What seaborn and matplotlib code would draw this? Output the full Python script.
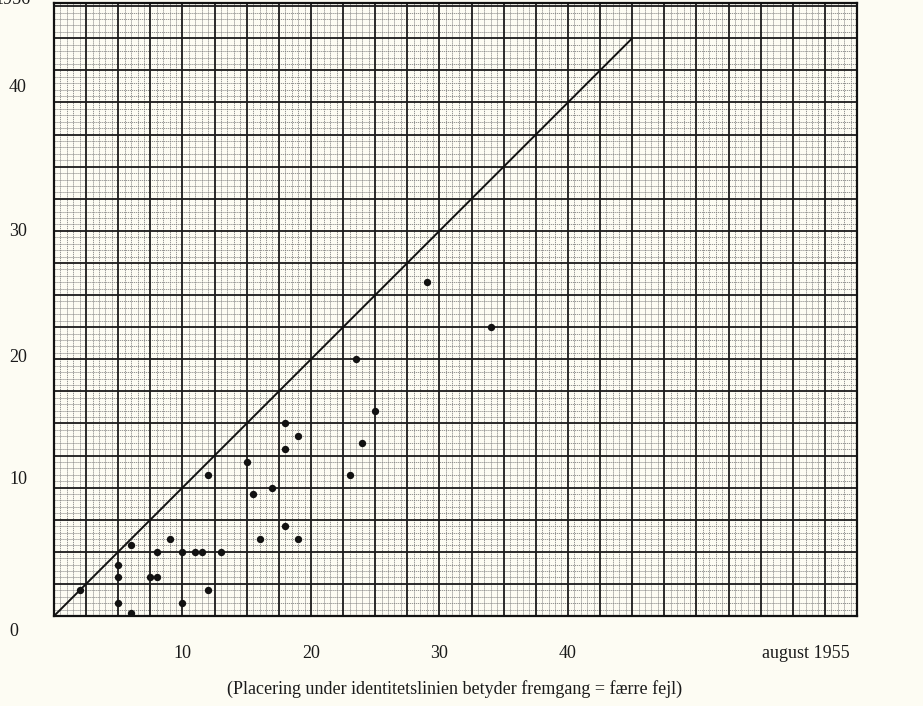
import matplotlib
matplotlib.use("Agg")
import matplotlib.pyplot as plt
import numpy as np
import pandas as pd
import seaborn as sns

# errors per pupil: august 1955 (x) vs 1956 (y)
aug_1955 = [2, 5, 5, 5, 6, 6, 7.5, 8, 8, 9, 10, 10, 11, 11.5, 12, 12, 13,
            15, 15.5, 16, 17, 18, 18, 18, 19, 19, 23, 23.5, 24, 25, 29, 34]
year_1956 = [2, 4, 3, 1, 5.5, 0.2, 3, 3, 5, 6, 5, 1, 5, 5, 11, 2, 5,
             12, 9.5, 6, 10, 15, 13, 7, 14, 6, 11, 20, 13.5, 16, 26, 22.5]
identity_x = [0, 45]
identity_y = [0, 45]

x_tick_vals = [10, 20, 30, 40]
y_tick_labels = ["0", "10", "20", "30", "40", "1956"]
y_label_pos = [(14, 631), (18, 480), (18, 357), (18, 232), (18, 87), (12, -1)]
caption = "(Placering under identitetslinien betyder fremgang = færre fejl)"

paper = "#fdfcf3"
sns.set_theme(style="white")
plt.rcParams["font.family"] = ["Liberation Serif", "DejaVu Serif"]

W, H = 923, 706
fig = plt.figure(figsize=(W / 100, H / 100), dpi=100, facecolor=paper)
ax = fig.add_axes([54 / W, (H - 616) / H, 803 / W, 613 / H])
ax.set_facecolor(paper)

df = pd.DataFrame({"aug": aug_1955, "y56": year_1956})
ident = pd.DataFrame({"x": identity_x, "y": identity_y})

ax.set_xlim(0, 62.5)
ax.set_ylim(0, 47.75)

# graph paper: fine lines every 0.5, heavy lines every 2.5
for v in np.arange(0.5, 62.5, 0.5):
    if abs(v / 2.5 - round(v / 2.5)) < 1e-6:
        ax.axvline(v, color="#1a1a1a", lw=1.3, zorder=1)
    else:
        ax.axvline(v, color="#7a7a7a", lw=0.55, ls=(0, (1.6, 1)), zorder=0)
for v in np.arange(0.5, 47.75, 0.5):
    if abs(v / 2.5 - round(v / 2.5)) < 1e-6:
        ax.axhline(v, color="#1a1a1a", lw=1.3, zorder=1)
    else:
        ax.axhline(v, color="#7a7a7a", lw=0.55, ls=(0, (1.6, 1)), zorder=0)

sns.lineplot(data=ident, x="x", y="y", color="#111111", lw=1.4, ax=ax, zorder=3)
sns.scatterplot(data=df, x="aug", y="y56", color="#111111", s=28,
                linewidth=0, ax=ax, zorder=4)

ax.set_xlabel("")
ax.set_ylabel("")
ax.set_xticks([])
ax.set_yticks([])
for s in ax.spines.values():
    s.set_color("#111111")
    s.set_linewidth(1.6)
    s.set_visible(True)

txt = dict(fontsize=13, color="#1a1a1a")
for v in x_tick_vals:
    ax.text(v, -38 / 613, str(v), transform=ax.get_xaxis_transform(),
            ha="center", va="center", **txt)
ax.text(58.5, -38 / 613, "august 1955", transform=ax.get_xaxis_transform(),
        ha="center", va="center", **txt)

for lab, (px, py) in zip(y_tick_labels, y_label_pos):
    fig.text(px / W, 1 - py / H, lab, ha="center", va="center", **txt)

fig.text(455 / W, 1 - 689 / H, caption, ha="center", va="center", **txt)

fig.savefig("out.png", dpi=100, facecolor=paper)
